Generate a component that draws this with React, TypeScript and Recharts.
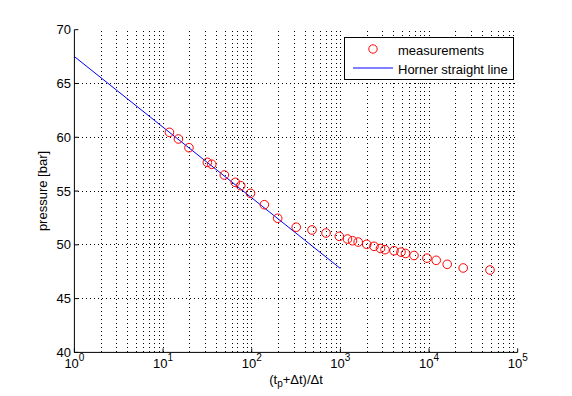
import React from 'react';
import { ComposedChart, Scatter, Line, XAxis, YAxis, ReferenceLine, Legend } from 'recharts';

// (tp + dt) / dt for each measurement and the pressure read at it
const ratio = [11.8, 14.9, 19.6, 31.6, 35.4, 49.1, 65.3, 75.1, 96.9, 138.7, 196.3, 317.5, 478.6, 688.5, 972, 1203, 1370, 1589, 1981, 2394, 2835, 3187, 4025, 4828, 5427, 6769, 9484, 12040, 16030, 24290, 48700];
const pressure = [60.46, 59.84, 59.03, 57.67, 57.49, 56.49, 55.81, 55.5, 54.79, 53.73, 52.47, 51.64, 51.38, 51.1, 50.79, 50.54, 50.38, 50.26, 50.05, 49.86, 49.66, 49.55, 49.45, 49.32, 49.2, 49.01, 48.76, 48.56, 48.19, 47.85, 47.66];

// end points of the fitted Horner line
const hornerRatio = [1, 1000];
const hornerPressure = [67.5, 47.8];

const xTicks = [1, 10, 100, 1000, 10000, 100000];
const yTicks = [40, 45, 50, 55, 60, 65, 70];

const measurements = ratio.map((x, i) => ({ x, p: pressure[i] }));
const horner = hornerRatio.map((x, i) => ({ x, p: hornerPressure[i] }));

// dotted grid: every 1..9 step of each decade, plus the inner y ticks
const xGrid = xTicks
  .slice(0, -1)
  .flatMap(d => [1, 2, 3, 4, 5, 6, 7, 8, 9].map(k => k * d))
  .filter(v => v > 1);
const yGrid = yTicks.slice(1, -1);

const FONT = '"Liberation Sans", Arial, Helvetica, sans-serif';

function PowerTick({ x, y, payload }: any) {
  const exp = Math.round(Math.log10(payload.value));
  return (
    <text x={x} y={y} textAnchor="middle" fontFamily={FONT} fontSize={13} fill="#000">
      <tspan dy={16}>10</tspan>
      <tspan dy={-7.5} fontSize={10}>{exp}</tspan>
    </text>
  );
}

function XLabel() {
  return (
    <text x={296} y={384} textAnchor="middle" fontFamily={FONT} fontSize={13} fill="#000">
      (t<tspan dy={3} fontSize={10}>p</tspan>
      <tspan dy={-3}>+Δt)/Δt</tspan>
    </text>
  );
}

function YLabel() {
  return (
    <text
      x={46.6}
      y={191}
      transform="rotate(-90 46.6 191)"
      textAnchor="middle"
      fontFamily={FONT}
      fontSize={13}
      fill="#000"
    >
      pressure [bar]
    </text>
  );
}

function LegendBox() {
  return (
    <svg width={170} height={43} style={{ display: 'block' }}>
      <rect x={0.5} y={0.5} width={169} height={42} fill="#fff" stroke="#000" />
      <circle cx={29} cy={12} r={4.2} fill="none" stroke="#ff0000" />
      <line x1={9} x2={49} y1={31} y2={31} stroke="#0000ff" />
      <text x={54} y={18} fontFamily={FONT} fontSize={13} fill="#000">measurements</text>
      <text x={54} y={36.5} fontFamily={FONT} fontSize={13} fill="#000">Horner straight line</text>
    </svg>
  );
}

const ring = (props: any) => (
  <circle cx={props.cx} cy={props.cy} r={4.3} fill="none" stroke="#ff0000" strokeWidth={1} />
);

export default function App() {
  return (
    <div style={{ position: 'absolute', left: 0, top: 0, width: 572, height: 396, background: '#fff' }}>
      <ComposedChart width={572} height={396} margin={{ top: 29.7, right: 54.3, bottom: 0, left: 0 }}>
        <XAxis
          dataKey="x"
          type="number"
          scale="log"
          domain={[1, 100000]}
          ticks={xTicks}
          allowDataOverflow
          height={43.6}
          stroke="#000"
          tickSize={-4}
          tickMargin={4}
          tick={<PowerTick />}
          label={<XLabel />}
        />
        <XAxis
          xAxisId="top"
          orientation="top"
          type="number"
          scale="log"
          domain={[1, 100000]}
          ticks={xTicks}
          allowDataOverflow
          height={0}
          stroke="#000"
          tickSize={-4}
          tick={false}
        />
        <YAxis
          dataKey="p"
          type="number"
          domain={[40, 70]}
          ticks={yTicks}
          allowDataOverflow
          width={74.4}
          stroke="#000"
          tickSize={-4}
          tickMargin={7.5}
          tick={{ fill: '#000', fontSize: 13, fontFamily: FONT }}
          label={<YLabel />}
        />
        <YAxis
          yAxisId="right"
          orientation="right"
          type="number"
          domain={[40, 70]}
          ticks={yTicks}
          allowDataOverflow
          width={0}
          stroke="#000"
          tickSize={-4}
          tick={false}
        />
        {xGrid.map(v => (
          <ReferenceLine key={'x' + v} x={v} stroke="#000" strokeDasharray="1 3" shapeRendering="crispEdges" />
        ))}
        {yGrid.map(v => (
          <ReferenceLine key={'y' + v} y={v} stroke="#000" strokeDasharray="1 3" shapeRendering="crispEdges" />
        ))}
        <Legend
          layout="horizontal"
          verticalAlign="middle"
          align="center"
          content={<LegendBox />}
          wrapperStyle={{ left: 343.5, top: 36.5, width: 170, height: 43 }}
        />
        <Line
          data={horner}
          dataKey="p"
          type="linear"
          stroke="#0000ff"
          strokeWidth={1}
          dot={false}
          isAnimationActive={false}
        />
        <Scatter data={measurements} dataKey="p" shape={ring} isAnimationActive={false} />
      </ComposedChart>
    </div>
  );
}
